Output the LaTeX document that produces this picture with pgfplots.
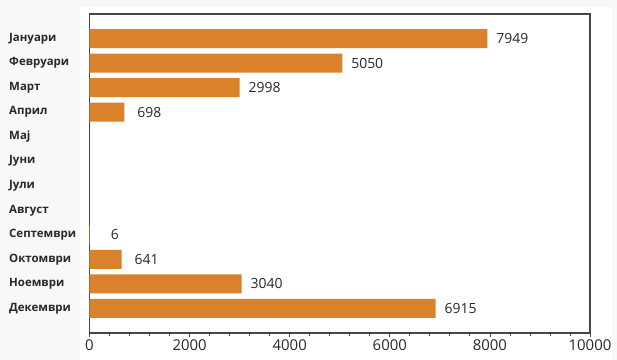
\documentclass[border=0pt]{standalone}
\usepackage{pgfplots}
\pgfplotsset{compat=1.18}
\usepackage{fontspec}
\setmainfont{Open Sans}
\definecolor{barorange}{RGB}{217,130,43}
\definecolor{axisgray}{RGB}{70,70,70}
\definecolor{bgc}{RGB}{248,248,248}
\definecolor{txt}{RGB}{40,40,40}
\begin{document}
\begin{tikzpicture}
\fill[bgc] (-89.5bp,-27bp) rectangle (527.5bp,333bp);
\fill[white] (-9.5bp,-27bp) rectangle (522.5bp,326bp);
\begin{axis}[
  at={(0,0)}, anchor=south west,
  scale only axis, width=500.5bp, height=319bp,
  xbar, bar width=19bp,
  xmin=0, xmax=10000, ymin=-1, ymax=12, y dir=reverse,
  scaled x ticks=false,
  ytick={0,...,11},
  yticklabels={Јануари,Февруари,Март,Април,Мај,Јуни,Јули,Август,Септември,Октомври,Ноември,Декември},
  yticklabel style={anchor=west, xshift=-76.5bp, inner sep=0pt, font=\bfseries\fontsize{11.5}{12}\selectfont, text=txt},
  ytick style={draw=none},
  xtick={0,2000,...,10000},
  minor x tick num=4,
  xtick pos=bottom,
  tick align=outside,
  major tick length=4bp, minor tick length=2.5bp,
  xtick style={axisgray, line width=0.8bp},
  xticklabel style={font=\fontsize{15}{15}\selectfont, text=txt, yshift=1bp},
  /pgf/number format/assume math mode=true,
  /pgf/number format/1000 sep={},
  axis line style={axisgray, line width=1.2bp},
  every node near coord/.append style={anchor=center, xshift=25bp, font=\fontsize{14}{14}\selectfont, text=txt},
]
\addplot[fill=barorange, draw=none, nodes near coords] coordinates {
(7949,0) (5050,1) (2998,2) (698,3) (6,8) (641,9) (3040,10) (6915,11)};
\end{axis}
\end{tikzpicture}
\end{document}
